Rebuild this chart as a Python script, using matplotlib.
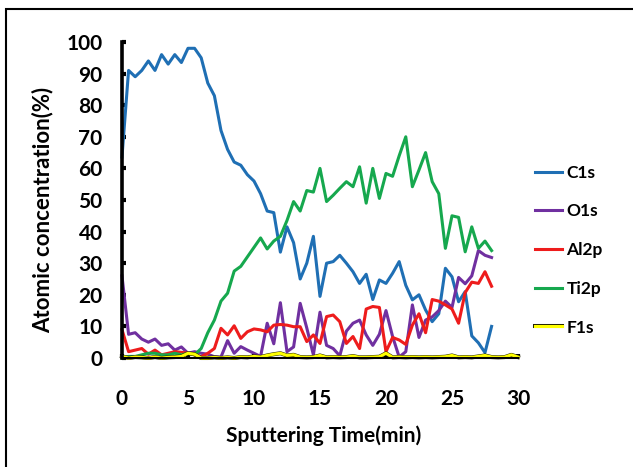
import matplotlib.pyplot as plt
import matplotlib.patheffects as pe
from matplotlib.patches import Rectangle
import numpy as np

# sputtering time (min), one spectrum every 0.5 min
time = np.arange(0, 28.5, 0.5)
time_f = np.arange(0, 30.5, 0.5)

c1s = [63.6, 91, 89, 91, 94, 91, 96, 93, 96, 93.5, 98, 98,
       95, 87, 83, 72, 66, 62, 61, 58, 56, 52, 46.5, 46,
       33.5, 41.5, 36.5, 25, 30, 38.5, 19.5, 30, 30.5, 32.5, 30, 27.3,
       23.6, 26.5, 18.5, 24.7, 23.6, 26.8, 30.5, 23, 18.4, 20, 15.2, 11.5,
       14, 28.4, 25.7, 17.8, 21, 7, 4.8, 1.7, 10]
o1s = [26, 7.5, 8, 6, 5, 6, 4, 4.5, 2.5, 3.5, 1.5, 2,
       1.5, 1.2, 0.4, 0.3, 5.5, 1.5, 3.6, 2.5, 1.5, 0.5, 11, 4.5,
       17.5, 2, 3.5, 17.3, 9.5, 1, 14.5, 4, 3, 0.7, 8.5, 11,
       12, 7.3, 4, 7.5, 15, 6.8, 0.3, 2, 16.8, 6.5, 12, 13,
       15, 18, 16, 25.5, 23.5, 26, 34, 32.5, 31.8]
al2p = [9, 2, 2.5, 3, 1.2, 2.5, 1, 1.5, 2, 1.8, 1.5, 1,
        0.4, 1.5, 3, 9.4, 7.3, 10.2, 6.2, 8.3, 9.2, 8.9, 8.3, 10.4,
        10.6, 10.4, 9.9, 9.9, 5.2, 7.3, 4.6, 13.1, 13.6, 11.5, 4.6, 6.8,
        3, 15.5, 16.3, 16, 2, 6.5, 5.7, 4.3, 10.4, 14, 8, 18.5,
        18, 16.8, 15.5, 11, 20.7, 24, 23.6, 27.3, 22.7]
ti2p = [0, 0.5, 0.5, 1, 1.5, 1.5, 1, 1, 1.5, 1, 1.5, 1,
        3, 8, 12, 18, 20.5, 27.5, 29, 32, 35, 38, 34.5, 37,
        38.5, 43.5, 49.5, 46.5, 53, 52.5, 60, 49.5, 51.5, 53.7, 55.8, 54.2,
        60.5, 49, 60, 50.5, 58.4, 57.5, 64, 70, 54.2, 59.5, 65, 55.8,
        52, 34.7, 45, 44.5, 33.6, 41.5, 34.7, 37, 34]
f1s = [0.5, 0, 0.3, 0.2, 0, 0.3, 0, 0.2, 0.3, 0.5, 1.5, 1.2,
       0, 0, 0.2, 0, 0.2, 0, 0.3, 0.2, 0.5, 0.3, 0.8, 1.2,
       1.5, 0.8, 1.0, 0.3, 0.2, 0.3, 0.8, 0.2, 0.3, 0.2, 0.3, 0.6,
       0.2, 0.2, 0.3, 0.4, 1.5, 0.2, 0.3, 0.2, 0.3, 0.2, 0.3, 0.2,
       0.3, 0.4, 0.8, 0.2, 0.3, 0.2, 0.5, 0.8, 0.3, 0.2, 0.3, 1.0, 0.3]

names = ['C1s', 'O1s', 'Al2p', 'Ti2p', 'F1s']
colors = ['#1f6fb4', '#7030a0', '#ee1c1c', '#16a84e', '#ffff00']

plt.rcParams['font.family'] = ['Lato', 'DejaVu Sans']
plt.rcParams['font.weight'] = 'bold'

fig = plt.figure(figsize=(6.33, 4.67), dpi=100)
fig.patches.append(Rectangle((6 / 633, -0.05), 1.0, 1.0307, transform=fig.transFigure,
                             fill=False, edgecolor='black', linewidth=1.5))
ax = fig.add_axes([0.1927, 0.2334, 0.6256, 0.6767])

series = [c1s, o1s, al2p, ti2p]
for vals, name, col in zip(series, names[:4], colors[:4]):
    ax.plot(time, vals, color=col, lw=2.2, label=name, clip_on=False)
ax.plot(time_f, f1s, color=colors[4], lw=2.2, label=names[4], clip_on=False,
        path_effects=[pe.Stroke(linewidth=2.9, foreground='#222200'), pe.Normal()])

ax.set_xlim(0, 30)
ax.set_ylim(0, 100)
ax.set_xticks(range(0, 31, 5))
ax.set_yticks(range(0, 101, 10))
ax.spines['top'].set_visible(False)
ax.spines['right'].set_visible(False)
ax.spines['left'].set_linewidth(2.6)
ax.spines['bottom'].set_linewidth(1.5)
ax.tick_params(axis='both', direction='in', length=3, width=3, labelsize=15)
ax.tick_params(axis='y', pad=14)
ax.tick_params(axis='x', pad=22)

ax.set_xlabel('Sputtering Time(min)', fontsize=15, fontweight='bold')
ax.set_ylabel('Atomic concentration(%)', fontsize=16, fontweight='bold')
ax.xaxis.set_label_coords(0.508, -0.212)
ax.yaxis.set_label_coords(-0.172, 0.47)

ax.legend(loc='upper left', bbox_to_anchor=(1.043, 0.612), frameon=False,
          borderpad=0, borderaxespad=0, handlelength=1.55, handletextpad=0.25,
          labelspacing=1.31, prop={'weight': 'bold', 'size': 12.5})

fig.savefig('out.png', dpi=100)
